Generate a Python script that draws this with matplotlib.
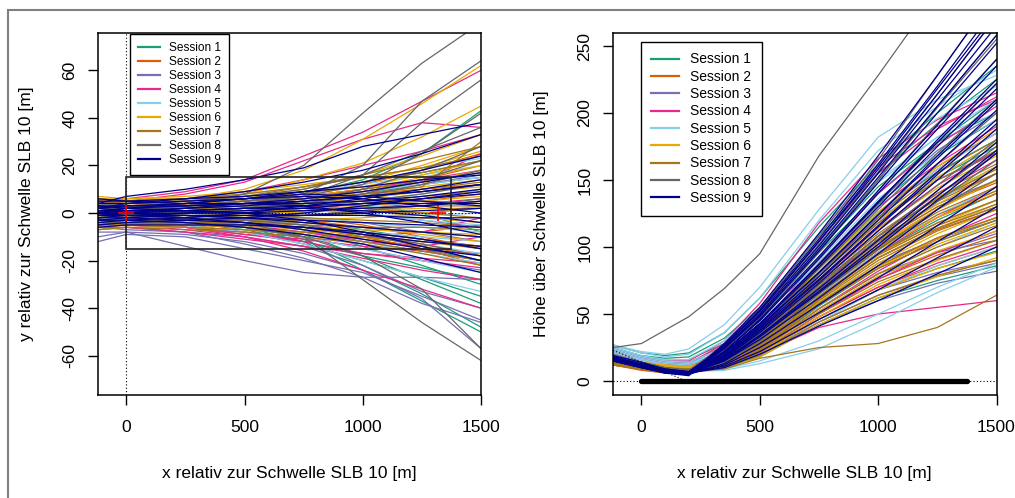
import matplotlib
matplotlib.use("Agg")
import matplotlib.pyplot as plt
from matplotlib.patches import Rectangle

plt.rcParams["font.family"] = ["Liberation Sans", "DejaVu Sans"]
plt.rcParams["axes.unicode_minus"] = False

# Stuetzstellen der Trajektorien (x relativ zur Schwelle SLB 10 in m)
x_lat = [-120, 0, 250, 500, 750, 1000, 1250, 1500]
x_hoe = [-120, 0, 100, 200, 350, 500, 750, 1000, 1250, 1500]

sessions = ["Session 1", "Session 2", "Session 3", "Session 4", "Session 5",
            "Session 6", "Session 7", "Session 8", "Session 9"]
farben = ["#1B9E77", "#D95F02", "#7570B3", "#E7298A", "#87CEEB",
          "#E6AB02", "#A6761D", "#666666", "#00008B"]

# seitliche Ablage y [m] je Session
s1_y = [[-2, -3, -4, -6, -12, -24, -37, -50], [0, -1, -3, -5, -11, -22, -34, -48],
        [1, 0, -2, -4, -9, -18, -28, -38], [-3, -4, -5, -8, -13, -20, -27, -35],
        [2, 1, -1, -3, -7, -14, -22, -30], [-1, -2, -4, -7, -12, -18, -23, -28],
        [3, 2, 1, -2, -5, -10, -15, -20], [0, 0, 1, 0, -3, -7, -11, -15],
        [4, 3, 2, 3, 4, 3, 0, -8], [-4, -3, -2, 1, 4, 8, 12, 15],
        [2, 3, 4, 6, 9, 13, 17, 22], [1, 2, 3, 5, 8, 14, 25, 43]]
s2_y = [[3, 2, 1, 0, -2, -5, -10, -15], [-2, -1, 0, 1, 2, 4, 6, 10],
        [5, 4, 4, 5, 7, 10, 14, 20], [0, -1, -3, -4, -6, -10, -15, -22],
        [-5, -4, -3, -2, 0, 3, 5, 8], [2, 3, 4, 5, 6, 8, 10, 12],
        [-1, -2, -4, -6, -8, -11, -14, -18], [6, 5, 5, 6, 8, 12, 18, 25],
        [-3, -3, -2, -1, -3, -6, -8, -5], [1, 0, 0, 2, 3, 2, 0, 2]]
s3_y = [[-10, -8, -14, -20, -25, -27, -27, -28], [-12, -9, -10, -15, -20, -25, -35, -45],
        [-8, -8, -9, -12, -17, -24, -36, -57], [-6, -7, -8, -10, -14, -22, -33, -40],
        [-4, -5, -6, -8, -10, -15, -20, -24], [0, -1, -2, -4, -7, -12, -16, -20],
        [-2, -3, -4, -3, -2, -4, -8, -12], [2, 1, 0, 1, 2, 0, -3, -6],
        [4, 3, 3, 4, 6, 9, 12, 16], [-7, -6, -8, -13, -19, -27, -38, -46]]
s4_y = [[5, 6, 9, 14, 24, 34, 47, 60], [4, 5, 8, 13, 22, 31, 38, 36],
        [-3, -4, -6, -10, -16, -24, -32, -40], [-5, -5, -7, -10, -14, -19, -24, -28],
        [-2, -3, -5, -8, -12, -17, -20, -23], [-6, -6, -8, -11, -14, -17, -19, -21],
        [-4, -5, -6, -9, -11, -14, -16, -17], [1, 0, -1, -3, -5, -8, -11, -14],
        [3, 3, 4, 5, 7, 10, 14, 18], [0, 1, 2, 4, 6, 9, 13, 25],
        [-1, -2, -3, -5, -8, -12, -14, -10], [2, 2, 3, 4, 3, 2, 4, 6],
        [-3, -4, -6, -9, -12, -10, -8, -2], [6, 5, 6, 9, 14, 20, 26, 33]]
s5_y = [[-2, -3, -5, -8, -13, -20, -27, -33], [0, -1, -3, -6, -10, -15, -20, -25],
        [2, 1, 0, -2, -5, -9, -13, -17], [-4, -4, -4, -5, -6, -8, -10, -12],
        [3, 3, 3, 3, 2, 0, -3, -5], [-1, 0, 1, 2, 2, 2, 3, 5],
        [1, 2, 3, 4, 6, 9, 12, 15], [4, 4, 5, 7, 9, 12, 16, 20],
        [-3, -2, -2, -1, 0, 2, 5, 10], [5, 5, 6, 8, 11, 15, 19, 23],
        [-5, -5, -6, -7, -9, -12, -17, -21], [0, 0, -1, -1, -2, -4, -6, -8],
        [2, 2, 2, 1, 0, -1, -1, 0], [-2, -1, 0, 1, 3, 5, 8, 12]]
s6_y = [[5, 5, 6, 10, 18, 31, 46, 62], [4, 4, 5, 8, 14, 21, 32, 45],
        [3, 3, 4, 6, 10, 16, 24, 33], [7, 6, 6, 7, 9, 13, 20, 28],
        [5, 5, 5, 6, 8, 11, 16, 22], [2, 2, 3, 4, 6, 9, 13, 18],
        [0, 1, 2, 3, 5, 8, 11, 14], [-2, -1, 0, 2, 4, 6, 9, 11],
        [-4, -3, -2, -1, 1, 3, 5, 7], [-6, -5, -4, -4, -3, -2, 0, 3],
        [-5, -5, -5, -6, -6, -7, -8, -9], [-3, -3, -4, -5, -7, -9, -12, -14],
        [1, 0, -1, -2, -4, -6, -9, -12], [3, 2, 2, 1, 0, -1, -2, -4],
        [6, 6, 7, 9, 12, 15, 19, 26], [-1, -1, 0, 0, 1, 1, 2, 2],
        [2, 3, 4, 5, 7, 10, 15, 20], [-7, -6, -6, -7, -8, -10, -13, -18]]
s7_y = [[-5, -5, -6, -7, -9, -12, -16, -20], [-3, -3, -4, -5, -6, -8, -11, -14],
        [-1, -1, -2, -3, -4, -6, -8, -10], [1, 0, 0, -1, -2, -3, -4, -6],
        [3, 2, 2, 2, 1, 1, 0, -2], [5, 4, 4, 4, 4, 5, 5, 4],
        [-6, -5, -4, -3, -1, 1, 3, 5], [-4, -3, -2, 0, 2, 4, 7, 9],
        [-2, -1, 0, 2, 4, 7, 10, 13], [0, 1, 2, 4, 6, 10, 13, 17],
        [2, 3, 4, 6, 9, 13, 17, 22], [4, 4, 5, 7, 11, 16, 22, 28],
        [-7, -6, -7, -8, -10, -13, -17, -22], [6, 5, 6, 8, 11, 15, 19, 24],
        [-3, -4, -5, -6, -8, -10, -12, -15], [1, 1, 1, 1, 1, 2, 3, 3],
        [-5, -4, -4, -4, -5, -6, -6, -7], [3, 3, 3, 4, 6, 8, 11, 30]]
s8_y = [[-1, 0, 3, 8, 20, 42, 63, 80], [2, 2, 3, 5, 8, 20, 47, 64],
        [1, 1, 2, 4, 7, 16, 38, 56], [0, -1, -2, -4, -10, -28, -46, -62],
        [-3, -3, -4, -6, -10, -18, -32, -57], [2, 2, 3, 5, 7, 12, 25, 42],
        [4, 4, 5, 7, 10, 16, 26, 36], [0, 0, 1, 2, 5, 10, 18, 28],
        [-2, -1, 0, 2, 4, 8, 14, 22], [3, 2, 2, 3, 3, 5, 8, 12],
        [-4, -4, -4, -5, -6, -9, -13, -18], [-1, -1, -2, -3, -5, -9, -14, -20],
        [1, 1, 1, 2, 4, 7, 12, 18], [-5, -4, -3, -2, -1, 1, 3, 6]]
s9_y = [[4, 7, 10, 14, 19, 28, 33, 38], [2, 4, 6, 9, 13, 18, 25, 33],
        [0, 2, 4, 6, 9, 13, 18, 24], [-1, 0, 2, 4, 6, 9, 13, 17],
        [1, 1, 2, 3, 5, 7, 9, 12], [-2, -1, 0, 1, 2, 4, 6, 8],
        [0, 0, 0, 0, 1, 2, 3, 5], [-3, -2, -1, -1, -1, 0, 1, 2],
        [2, 1, 1, 0, -1, -1, -2, -2], [-1, -1, -1, -2, -3, -4, -5, -6],
        [1, 0, -1, -2, -4, -6, -8, -10], [-2, -2, -3, -4, -6, -9, -12, -14],
        [0, -1, -2, -4, -7, -11, -15, -18], [3, 2, 1, 0, -3, -8, -14, -20],
        [-4, -3, -4, -6, -9, -13, -19, -25], [4, 4, 5, 6, 7, 6, 3, 0],
        [2, 3, 4, 6, 8, 7, 5, 3], [-5, -4, -3, -2, 0, 3, 6, 9],
        [5, 5, 6, 7, 9, 11, 14, 16], [-3, -3, -2, 0, 3, 6, 10, 14],
        [3, 3, 3, 4, 4, 5, 7, 10], [-1, 0, 1, 2, 2, 1, -1, -4],
        [1, 2, 3, 4, 3, 0, -4, -9], [-6, -5, -5, -5, -6, -8, -11, -15],
        [6, 5, 4, 4, 5, 7, 9, 12], [0, 1, 1, 2, 3, 4, 4, 4]]

# Hoehe ueber Schwelle [m] je Session
s1_h = [[27, 21, 19, 21, 36, 62, 115, 162, 200, 235], [25, 19, 17, 18, 32, 55, 108, 155, 192, 225],
        [24, 18, 16, 16, 28, 48, 98, 145, 178, 200], [22, 16, 13, 12, 22, 40, 88, 132, 168, 195],
        [20, 15, 11, 10, 17, 34, 80, 120, 152, 175], [19, 14, 10, 9, 15, 30, 72, 108, 137, 160],
        [18, 13, 10, 9, 13, 26, 64, 96, 120, 140], [17, 12, 9, 8, 12, 23, 56, 84, 104, 120],
        [17, 13, 10, 9, 11, 20, 46, 68, 84, 97], [16, 12, 9, 8, 10, 18, 42, 62, 75, 86],
        [21, 15, 12, 11, 19, 37, 84, 126, 156, 180], [23, 17, 14, 14, 26, 46, 96, 140, 178, 210]]
s2_h = [[13, 9, 7, 7, 12, 26, 64, 96, 118, 135], [12, 8, 6, 6, 11, 23, 58, 86, 106, 122],
        [14, 10, 8, 8, 13, 29, 72, 108, 136, 155], [13, 9, 7, 7, 14, 31, 78, 118, 150, 170],
        [15, 11, 9, 8, 12, 26, 62, 92, 113, 128], [14, 10, 8, 8, 11, 22, 52, 76, 94, 108],
        [12, 9, 7, 7, 10, 20, 48, 70, 86, 100], [16, 12, 10, 9, 15, 33, 82, 126, 160, 185],
        [15, 11, 9, 9, 13, 28, 68, 104, 130, 148], [13, 10, 8, 8, 12, 27, 65, 98, 122, 140]]
s3_h = [[20, 15, 12, 11, 13, 20, 42, 60, 73, 82], [19, 14, 11, 10, 12, 20, 44, 64, 78, 88],
        [18, 13, 10, 9, 12, 21, 46, 68, 81, 90], [17, 12, 10, 9, 12, 23, 52, 78, 96, 110],
        [18, 13, 10, 9, 13, 26, 62, 92, 114, 130], [17, 13, 10, 9, 14, 29, 70, 106, 132, 150],
        [19, 14, 11, 10, 16, 33, 78, 120, 150, 170], [20, 15, 12, 11, 18, 37, 88, 134, 172, 200],
        [16, 12, 9, 8, 12, 25, 58, 88, 106, 120], [21, 16, 13, 12, 14, 24, 54, 80, 96, 105]]
s4_h = [[18, 13, 10, 9, 11, 20, 40, 50, 55, 60], [24, 18, 15, 15, 30, 58, 118, 166, 195, 215],
        [22, 17, 14, 13, 26, 50, 105, 155, 188, 212], [20, 15, 12, 11, 20, 40, 92, 140, 176, 205],
        [19, 14, 11, 10, 16, 33, 80, 124, 158, 185], [18, 13, 10, 9, 14, 29, 70, 108, 140, 165],
        [17, 12, 9, 8, 12, 26, 62, 96, 122, 145], [16, 12, 9, 8, 11, 23, 54, 82, 106, 125],
        [17, 12, 9, 8, 10, 20, 48, 70, 88, 102], [19, 14, 11, 10, 14, 29, 68, 102, 128, 150],
        [21, 16, 12, 11, 19, 38, 86, 130, 162, 190], [16, 11, 8, 7, 10, 21, 50, 76, 96, 112],
        [23, 17, 14, 13, 28, 54, 110, 160, 190, 210], [18, 13, 10, 9, 15, 31, 75, 114, 146, 172]]
s5_h = [[27, 22, 20, 24, 42, 70, 128, 182, 210, 228], [26, 21, 18, 20, 36, 62, 120, 172, 205, 232],
        [25, 19, 16, 16, 30, 54, 110, 162, 196, 220], [24, 18, 15, 14, 25, 47, 100, 150, 182, 200],
        [22, 16, 13, 12, 21, 41, 90, 136, 170, 195], [20, 15, 11, 10, 16, 34, 78, 120, 152, 178],
        [19, 14, 10, 9, 13, 27, 64, 96, 124, 145], [17, 12, 9, 8, 10, 19, 44, 68, 86, 100],
        [16, 11, 8, 7, 9, 15, 30, 50, 70, 88], [15, 11, 8, 7, 8, 13, 24, 44, 66, 85],
        [18, 13, 10, 9, 11, 22, 54, 80, 100, 118], [21, 16, 12, 11, 17, 36, 82, 126, 158, 185],
        [23, 17, 14, 13, 23, 45, 98, 148, 182, 210], [19, 14, 11, 10, 14, 29, 68, 104, 134, 160]]
s6_h = [[16, 12, 10, 9, 14, 30, 72, 108, 136, 158], [15, 11, 9, 8, 12, 27, 66, 98, 122, 142],
        [14, 10, 8, 8, 11, 25, 59, 88, 110, 128], [16, 12, 10, 10, 12, 22, 52, 78, 97, 112],
        [17, 13, 11, 10, 12, 20, 46, 68, 84, 96], [15, 11, 9, 9, 10, 18, 42, 62, 78, 92],
        [18, 13, 11, 10, 16, 33, 80, 120, 152, 178], [17, 12, 10, 9, 15, 32, 76, 114, 144, 168],
        [16, 12, 9, 9, 14, 30, 72, 108, 137, 160], [15, 11, 9, 8, 13, 28, 68, 100, 128, 150],
        [14, 11, 9, 8, 12, 26, 62, 92, 114, 132], [16, 12, 10, 9, 11, 24, 57, 85, 106, 122],
        [19, 14, 12, 11, 17, 35, 84, 126, 160, 188], [15, 12, 10, 9, 11, 20, 48, 72, 90, 105],
        [17, 13, 11, 10, 14, 29, 68, 102, 128, 150], [18, 14, 11, 10, 14, 30, 70, 105, 132, 155],
        [16, 12, 10, 9, 13, 26, 63, 94, 116, 135], [14, 10, 8, 8, 11, 23, 54, 80, 102, 118]]
s7_h = [[13, 9, 7, 7, 9, 17, 25, 28, 40, 64], [13, 9, 7, 7, 12, 26, 63, 95, 118, 135],
        [12, 9, 7, 7, 11, 25, 60, 90, 112, 128], [14, 10, 8, 8, 13, 28, 67, 100, 126, 145],
        [13, 10, 8, 8, 13, 29, 70, 105, 134, 155], [15, 11, 9, 8, 14, 31, 74, 110, 140, 162],
        [14, 10, 8, 8, 15, 33, 78, 118, 150, 172], [12, 9, 7, 7, 10, 22, 54, 80, 100, 116],
        [13, 10, 8, 8, 10, 21, 50, 74, 91, 105], [14, 11, 9, 9, 10, 19, 44, 64, 79, 90],
        [15, 11, 9, 9, 13, 27, 66, 99, 124, 142], [13, 10, 8, 8, 13, 29, 69, 104, 130, 150],
        [16, 12, 10, 9, 15, 34, 80, 122, 155, 180], [12, 9, 7, 7, 11, 25, 61, 92, 114, 130],
        [14, 10, 8, 8, 12, 26, 63, 94, 116, 132], [13, 10, 8, 8, 11, 23, 57, 84, 104, 120],
        [15, 11, 9, 9, 11, 24, 58, 86, 107, 122], [14, 10, 8, 8, 13, 30, 72, 108, 136, 158]]
s8_h = [[25, 28, 38, 48, 69, 95, 168, 228, 290, 350], [20, 14, 10, 8, 27, 54, 108, 165, 228, 290],
        [19, 13, 9, 7, 25, 51, 102, 156, 214, 272], [18, 13, 9, 7, 24, 48, 98, 150, 205, 258],
        [17, 12, 8, 6, 22, 45, 92, 142, 192, 240], [18, 13, 9, 7, 20, 42, 86, 132, 178, 222],
        [17, 12, 9, 7, 18, 38, 80, 122, 162, 200], [16, 12, 9, 7, 16, 35, 74, 112, 146, 180],
        [17, 13, 9, 8, 15, 33, 70, 106, 138, 170], [16, 12, 9, 8, 14, 30, 65, 98, 128, 155],
        [18, 14, 10, 8, 19, 40, 84, 128, 170, 210], [15, 11, 8, 7, 15, 32, 68, 102, 134, 165],
        [19, 14, 10, 8, 23, 47, 96, 150, 204, 255], [16, 12, 9, 8, 16, 34, 72, 108, 142, 175]]
s9_h = [[18, 12, 7, 5, 28, 55, 110, 168, 228, 290], [17, 11, 7, 5, 27, 53, 106, 162, 220, 280],
        [16, 11, 6, 4, 26, 52, 104, 158, 214, 272], [17, 12, 7, 5, 25, 50, 101, 155, 210, 265],
        [16, 11, 7, 5, 24, 48, 97, 148, 200, 252], [18, 12, 8, 6, 22, 46, 93, 142, 191, 240],
        [17, 11, 7, 5, 21, 43, 87, 133, 180, 225], [16, 11, 6, 5, 19, 40, 81, 124, 168, 210],
        [15, 10, 6, 5, 18, 38, 76, 116, 156, 195], [16, 11, 7, 5, 16, 34, 69, 105, 142, 178],
        [17, 12, 8, 6, 15, 31, 62, 95, 128, 160], [15, 10, 7, 5, 13, 28, 57, 86, 116, 145],
        [16, 11, 7, 6, 12, 25, 51, 77, 104, 130], [17, 12, 8, 6, 11, 22, 46, 68, 92, 115],
        [16, 11, 7, 6, 10, 20, 41, 60, 80, 100], [18, 13, 9, 7, 24, 49, 99, 152, 205, 258],
        [19, 14, 9, 7, 26, 52, 104, 160, 218, 275], [17, 12, 8, 6, 22, 45, 91, 140, 188, 235],
        [16, 11, 7, 5, 20, 42, 85, 130, 175, 218], [15, 10, 6, 5, 18, 39, 78, 120, 162, 202],
        [18, 12, 8, 6, 21, 43, 87, 134, 178, 222], [16, 11, 7, 5, 17, 36, 73, 112, 150, 188],
        [17, 12, 8, 6, 17, 37, 75, 115, 154, 192], [15, 11, 7, 5, 15, 33, 66, 100, 135, 170],
        [16, 12, 8, 6, 16, 34, 67, 102, 138, 172], [17, 12, 8, 6, 19, 41, 81, 124, 166, 208]]

lat_daten = [s1_y, s2_y, s3_y, s4_y, s5_y, s6_y, s7_y, s8_y, s9_y]
hoe_daten = [s1_h, s2_h, s3_h, s4_h, s5_h, s6_h, s7_h, s8_h, s9_h]

# Pisten-Geometrie und Referenzpunkte
bahn_ende = 1375
box_halb = 15
kreuz_x = [0, 1320]
kreuz_y = [0, 0]
gleit_x = [-120, 190]
gleit_y = [23, 0]

fig = plt.figure(figsize=(10.15, 4.98), dpi=100)
fig.patches.append(Rectangle((8 / 1015, -0.1), 1.1, 1 - 10 / 498 + 0.1,
                             transform=fig.transFigure, fill=False,
                             edgecolor="#808080", linewidth=1.5))

ax1 = fig.add_axes([98 / 1015, 1 - 395 / 498, 383 / 1015, 362 / 498])
ax2 = fig.add_axes([613 / 1015, 1 - 395 / 498, 383.5 / 1015, 362 / 498])

# linke Grafik: Draufsicht
for i, kurven in enumerate(lat_daten):
    for k, y in enumerate(kurven):
        ax1.plot(x_lat, y, color=farben[i], lw=0.9,
                 label=sessions[i] if k == 0 else None)
ax1.axhline(0, color="black", lw=0.8, ls=(0, (1, 2)))
ax1.axvline(0, color="black", lw=0.8, ls=(0, (1, 2)))
ax1.add_patch(Rectangle((0, -box_halb), bahn_ende, 2 * box_halb, fill=False,
                        edgecolor="#222222", lw=1.2, zorder=5))
ax1.plot(kreuz_x, kreuz_y, ls="none", marker="+", ms=11, mew=1.2, color="red", zorder=6)
ax1.set_xlim(-120, 1500)
ax1.set_ylim(-76.5, 75.7)
ax1.set_yticks([-60, -40, -20, 0, 20, 40, 60])
ax1.set_ylabel("y relativ zur Schwelle SLB 10 [m]", fontsize=12.5, labelpad=20)

# rechte Grafik: Hoehenprofil
for i, kurven in enumerate(hoe_daten):
    for k, h in enumerate(kurven):
        ax2.plot(x_hoe, h, color=farben[i], lw=0.9,
                 label=sessions[i] if k == 0 else None)
ax2.axhline(0, color="black", lw=0.8, ls=(0, (1, 2)))
ax2.plot(gleit_x, gleit_y, color="black", lw=0.8, ls=(0, (1, 2)))
ax2.plot([0, bahn_ende], [0, 0], color="black", lw=3.8, solid_capstyle="round", zorder=5)
ax2.set_xlim(-120, 1500)
ax2.set_ylim(-10.4, 259.7)
ax2.set_yticks([0, 50, 100, 150, 200, 250])
ax2.set_ylabel("Höhe über Schwelle SLB 10 [m]", fontsize=12.5, labelpad=20)

for ax in (ax1, ax2):
    ax.set_xticks([0, 500, 1000, 1500])
    ax.set_xlabel("x relativ zur Schwelle SLB 10 [m]", fontsize=12.5, labelpad=22)
    ax.tick_params(length=7, width=1, labelsize=12.5, pad=11)
    ax.tick_params(axis="y", pad=8)
    for lab in ax.get_yticklabels():
        lab.set_rotation(90)
        lab.set_va("center")
    for s in ax.spines.values():
        s.set_linewidth(1.1)

leg1 = ax1.legend(loc="upper left", bbox_to_anchor=(0.083, 0.998), fontsize=8.6,
                  frameon=True, fancybox=False, framealpha=1, edgecolor="black",
                  handlelength=1.8, handletextpad=0.75, labelspacing=0.17,
                  borderpad=0.7, borderaxespad=0)
leg1.get_frame().set_linewidth(1.0)
for l in leg1.get_lines():
    l.set_linewidth(1.6)

leg2 = ax2.legend(loc="upper left", bbox_to_anchor=(0.073, 0.975), fontsize=10,
                  frameon=True, fancybox=False, framealpha=1, edgecolor="black",
                  handlelength=2.0, handletextpad=0.8, labelspacing=0.24,
                  borderpad=0.75, borderaxespad=0)
leg2.get_frame().set_linewidth(1.0)
for l in leg2.get_lines():
    l.set_linewidth(1.6)

fig.savefig("out.png", dpi=100)
